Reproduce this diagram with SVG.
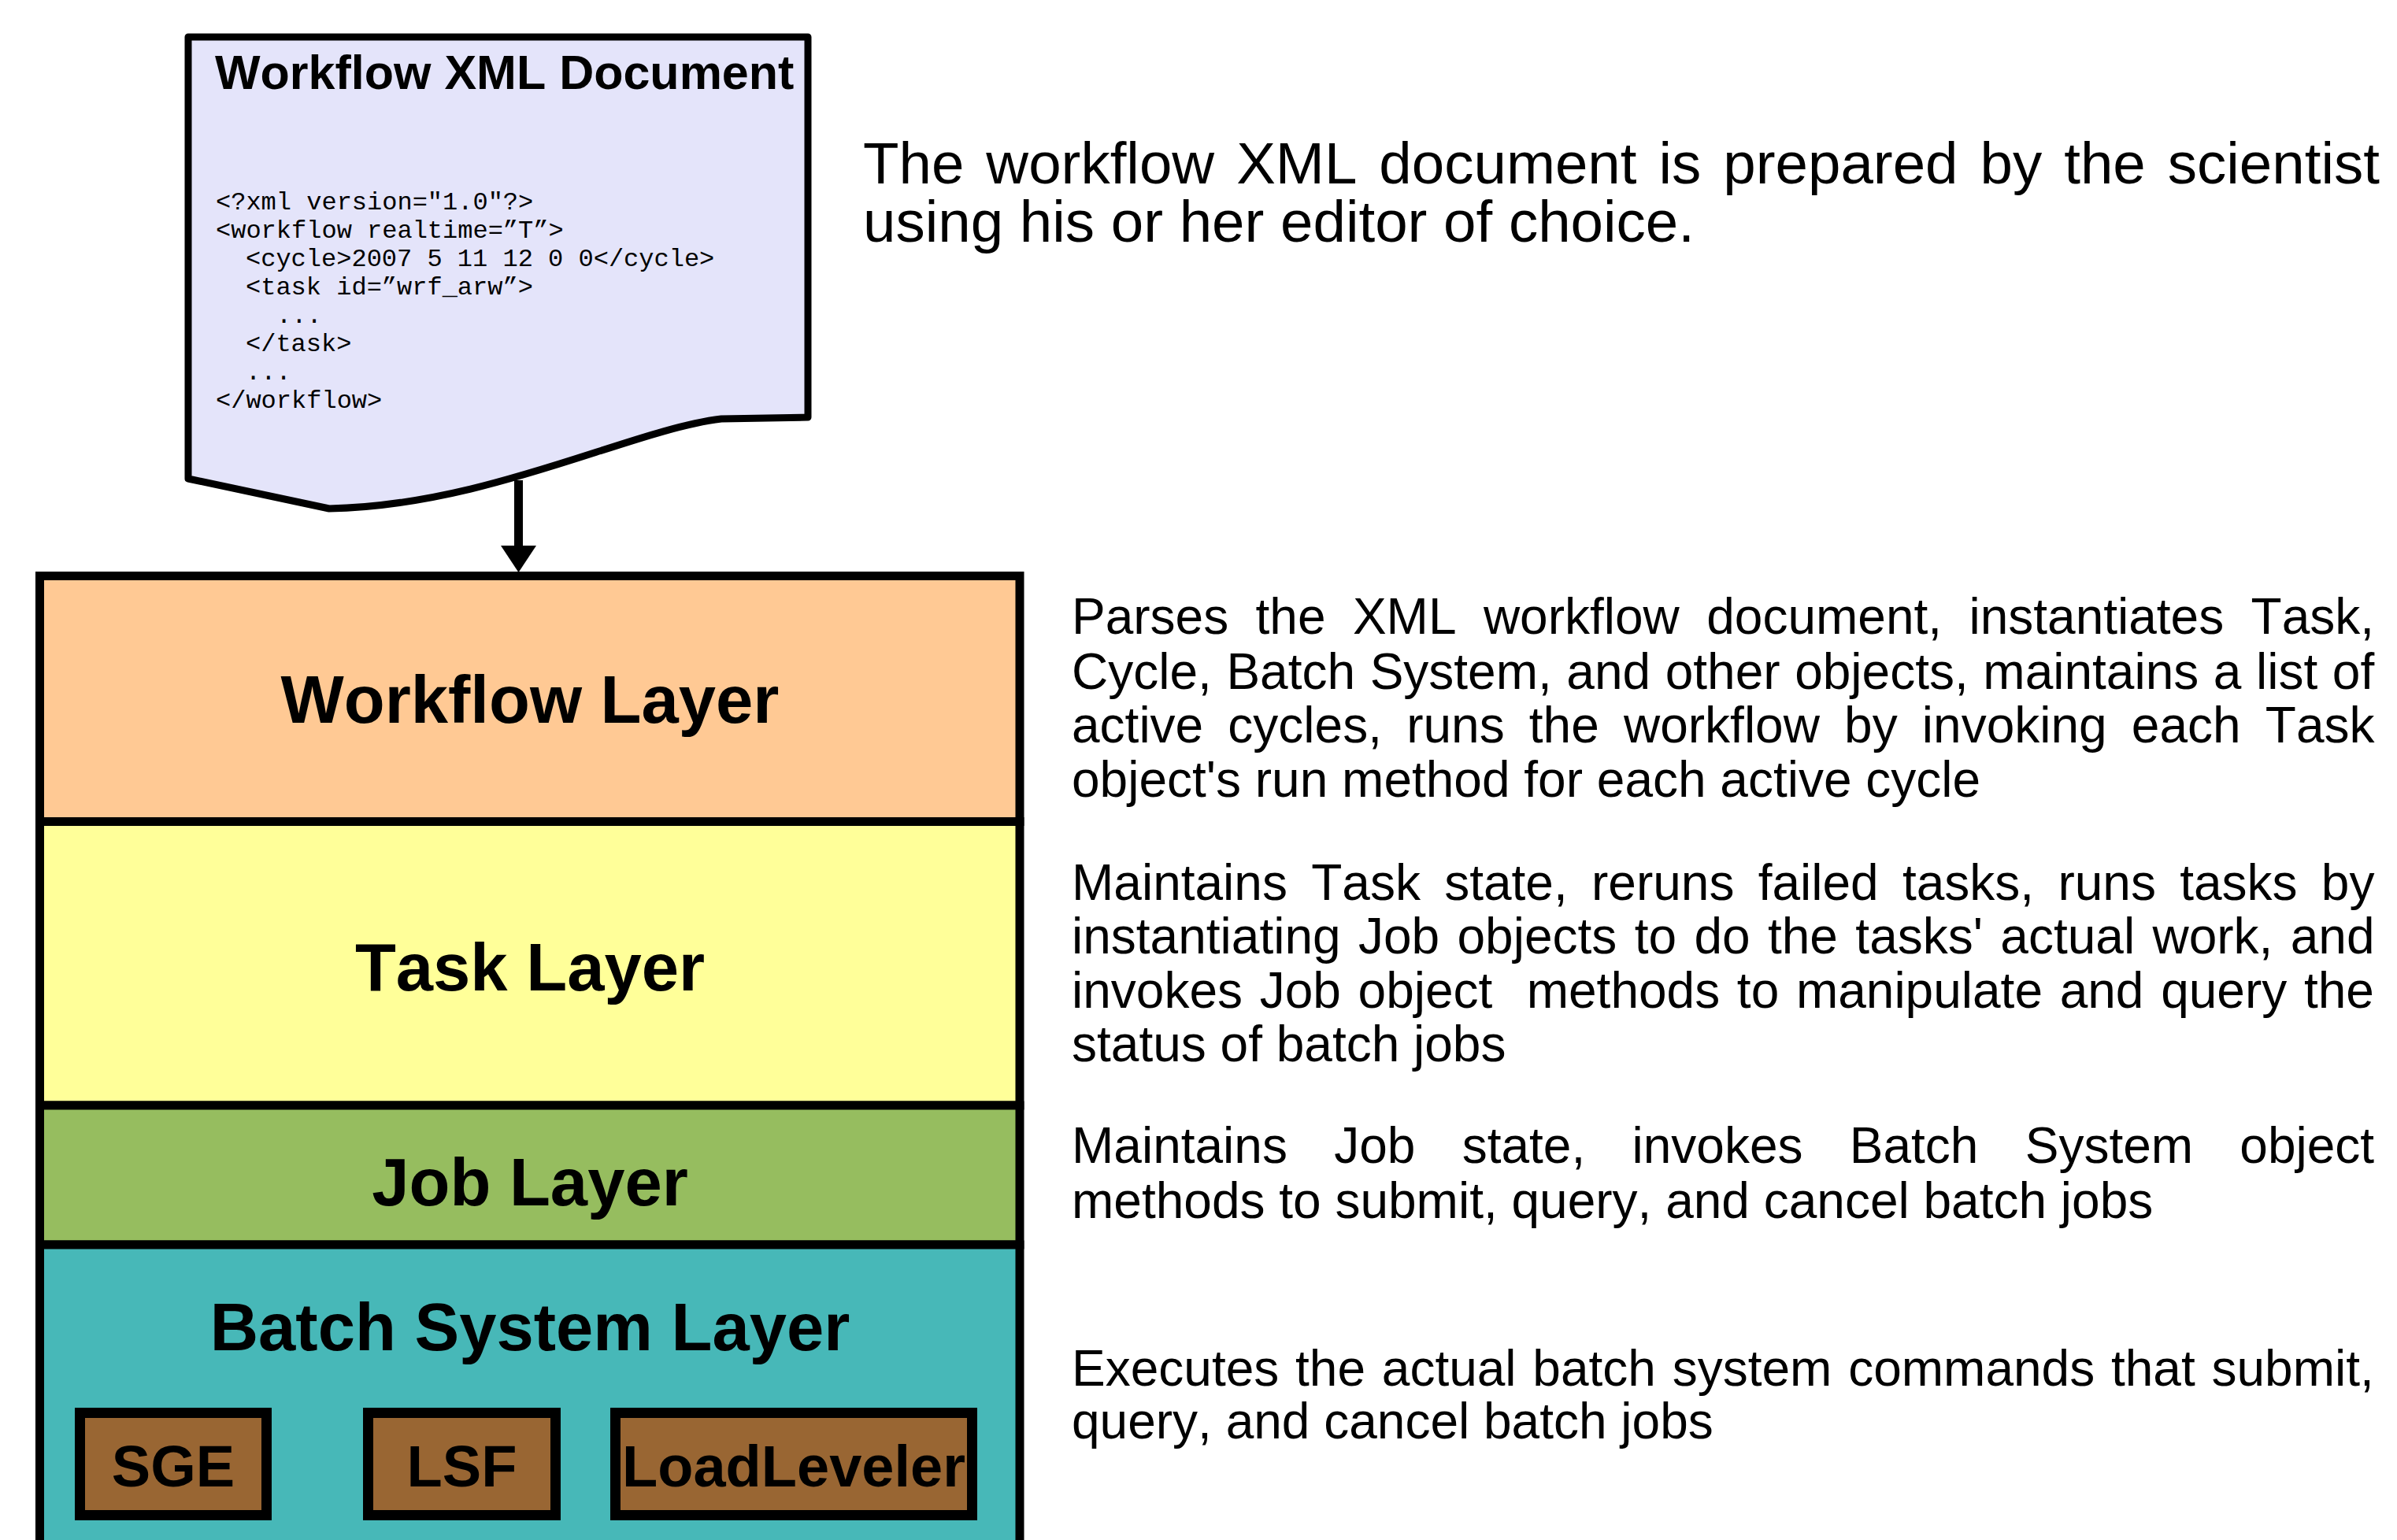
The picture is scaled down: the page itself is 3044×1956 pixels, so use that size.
<svg xmlns="http://www.w3.org/2000/svg" width="3044" height="1956" viewBox="0 0 3044 1956">
<defs>
<style>
text{font-kerning:none}
.lay{stroke:#000;stroke-width:11}
.box{fill:#996633;stroke:#000;stroke-width:13}
.bt{font-family:"Liberation Sans",Arial,sans-serif;font-weight:bold;fill:#000;text-anchor:middle}
.lt{font-size:85px}
.st{font-size:74px}
.code{font-family:"Liberation Mono","Courier New",monospace;font-size:32px;fill:#000}
.desc{font-family:"Liberation Sans",Arial,sans-serif;font-size:64px;fill:#000}
.big{font-family:"Liberation Sans",Arial,sans-serif;font-size:74.5px;fill:#000}
</style>
<marker id="ah" markerUnits="userSpaceOnUse" viewBox="0 0 34 45" refX="0" refY="22.5" markerWidth="34" markerHeight="45" orient="auto">
<path d="M0,0 L34,22.5 L0,45 Z" fill="#000"/>
</marker>
</defs>
<rect width="3044" height="1956" fill="#fff"/>

<g id="xml-document">
<path d="M239,47 H1026 V530 L916,532 C800,546 620,642 418,646 L239,608 Z" fill="#E4E4FA" stroke="#000" stroke-width="9" stroke-linejoin="round"/>
<text x="273" y="113" font-family="Liberation Sans,Arial,sans-serif" font-weight="bold" font-size="61">Workflow XML Document</text>
<text class="code" x="274" y="266">&lt;?xml version="1.0"?&gt;</text>
<text class="code" x="274" y="302">&lt;workflow realtime=”T”&gt;</text>
<text class="code" x="312" y="338">&lt;cycle&gt;2007 5 11 12 0 0&lt;/cycle&gt;</text>
<text class="code" x="312" y="374">&lt;task id=”wrf_arw”&gt;</text>
<text class="code" x="351" y="410">...</text>
<text class="code" x="312" y="446">&lt;/task&gt;</text>
<text class="code" x="312" y="482">...</text>
<text class="code" x="274" y="518">&lt;/workflow&gt;</text>
</g>

<g id="connectors">
<line x1="658.5" y1="610" x2="658.5" y2="693" stroke="#000" stroke-width="11" marker-end="url(#ah)"/>
</g>

<g id="workflow-layer">
<rect class="lay" x="50.5" y="731.5" width="1244.5" height="312" fill="#FFC994"/>
<text class="bt lt" x="673" y="918">Workflow Layer</text>
</g>
<g id="task-layer">
<rect class="lay" x="50.5" y="1043.5" width="1244.5" height="360.5" fill="#FFFF99"/>
<text class="bt lt" x="673" y="1258">Task Layer</text>
</g>
<g id="job-layer">
<rect class="lay" x="50.5" y="1404" width="1244.5" height="177" fill="#96BD5F"/>
<text class="bt lt" x="673" y="1531">Job Layer</text>
</g>
<g id="batch-system-layer">
<rect class="lay" x="50.5" y="1581" width="1244.5" height="400" fill="#47B8B8"/>
<text class="bt lt" x="673" y="1715">Batch System Layer</text>
</g>
<g id="sge">
<rect class="box" x="101.5" y="1794.5" width="237" height="130"/>
<text class="bt st" x="220" y="1888">SGE</text>
</g>
<g id="lsf">
<rect class="box" x="467.5" y="1794.5" width="238" height="130"/>
<text class="bt st" x="586.5" y="1888">LSF</text>
</g>
<g id="loadleveler">
<rect class="box" x="781.5" y="1794.5" width="453" height="130"/>
<text class="bt st" x="1008" y="1888">LoadLeveler</text>
</g>

<g id="descriptions">
<text class="big"><tspan x="1096" y="233" word-spacing="7.3">The workflow XML document is prepared by the scientist</tspan><tspan x="1096" y="307" word-spacing="0">using his or her editor of choice.</tspan></text>

<text class="desc"><tspan x="1361" y="805" word-spacing="16.6">Parses the XML workflow document, instantiates Task,</tspan><tspan x="1361" y="875" word-spacing="0.8">Cycle, Batch System, and other objects, maintains a list of</tspan><tspan x="1361" y="943" word-spacing="13.4">active cycles, runs the workflow by invoking each Task</tspan><tspan x="1361" y="1012" word-spacing="0">object's run method for each active cycle</tspan></text>

<text class="desc" xml:space="preserve"><tspan x="1361" y="1143" word-spacing="12.5">Maintains Task state, reruns failed tasks, runs tasks by</tspan><tspan x="1361" y="1211" word-spacing="4.6">instantiating Job objects to do the tasks' actual work, and</tspan><tspan x="1361" y="1280" word-spacing="3.9">invokes Job object  methods to manipulate and query the</tspan><tspan x="1361" y="1348" word-spacing="0">status of batch jobs</tspan></text>

<text class="desc"><tspan x="1361" y="1477" word-spacing="41.5">Maintains Job state, invokes Batch System object</tspan><tspan x="1361" y="1547" word-spacing="0">methods to submit, query, and cancel batch jobs</tspan></text>

<text class="desc"><tspan x="1361" y="1760" word-spacing="3.0">Executes the actual batch system commands that submit,</tspan><tspan x="1361" y="1827" word-spacing="0">query, and cancel batch jobs</tspan></text>
</g>
</svg>
